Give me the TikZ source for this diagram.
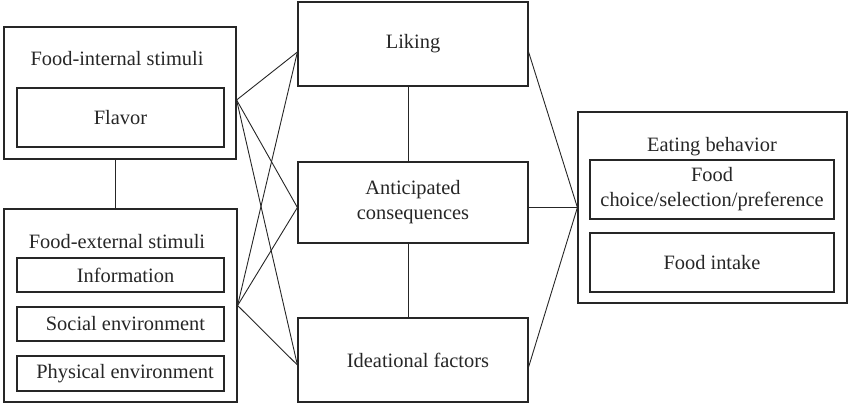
\documentclass[tikz,border=0pt]{standalone}
\usepackage{fontspec}
\setmainfont{Liberation Serif}
\usetikzlibrary{
  calc,
  positioning
}
\definecolor{Ink}{HTML}{262626}
\newcommand{\diagramnormalfont}{\fontsize{20.4}{25}\selectfont}
\tikzset{
  % Global typography and reusable box geometry.
  every node/.style={font=\diagramnormalfont, text=Ink},
  group block/.style={
    draw=Ink,
    line width=1.2pt,
    inner sep=0pt,
    minimum width=#1
  },
  group block/.default=232pt,
  item box/.style={
    draw=Ink,
    line width=1.2pt,
    inner sep=0pt,
    align=center,
    minimum width=#1
  },
  item box/.default=207pt,
  factor box/.style={
    draw=Ink,
    line width=1.2pt,
    inner sep=0pt,
    align=center,
    minimum width=230pt,
    minimum height=83pt
  },
  block title/.style={
    align=center,
    inner sep=0pt
  },
  link/.style={
    draw=Ink,
    line width=0.9pt
  }
}

\begin{document}
\begin{tikzpicture}[x=1pt, y=-1pt]

\useasboundingbox (0,0) rectangle (848,406);

% ---------------------------------------------------------------------------
% Food stimuli (left column)
% ---------------------------------------------------------------------------
\node[group block, minimum height=132pt] (internal) at (120,93) {};
\node[block title] (internalTitle) at (117,58.5) {Food-internal stimuli};
\node[item box, minimum height=59pt] (flavor) at (120.5,117.5) {Flavor};

\node[group block=233pt, minimum height=193pt] (external) at (120.5,305.5) {};
\node[block title] (externalTitle) at (117,242) {Food-external stimuli};
\node[item box, minimum height=34pt] (information) at (120.5,275) {\hspace*{10pt}Information};
\node[item box, minimum height=34pt] (social) at (120.5,324) {\hspace*{10pt}Social environment};
\node[item box, minimum height=35pt] (physical) at (120.5,373.5) {\hspace*{9pt}Physical environment};

\draw[link] (internal.south -| 115,0) -- (external.north -| 115,0);

% ---------------------------------------------------------------------------
% Mediating factors (middle column)
% ---------------------------------------------------------------------------
\node[factor box, minimum height=84pt] (liking) at (413,44) {Liking};
\node[factor box, minimum height=81pt] (anticipated) at (413,202.5)
  {Anticipated\\consequences};
\node[factor box, minimum height=84pt] (ideational) at (413,360)
  {\hspace*{10pt}Ideational factors};

\draw[link] (liking.south -| 408,0) -- (anticipated.north -| 408,0);
\draw[link] (anticipated.south -| 408,0) -- (ideational.north -| 408,0);

% ---------------------------------------------------------------------------
% Eating behavior (right column)
% ---------------------------------------------------------------------------
\node[group block=269pt, minimum height=191pt] (eating) at (712.5,207.5) {};
\node[block title] (eatingTitle) at (712,147) {Eating behavior};
\node[item box=244pt, minimum height=59pt] (choice) at (712,189.5)
  {Food\\choice/selection/preference};
\node[item box=244pt, minimum height=59pt] (intake) at (712,262.5) {Food intake};

% ---------------------------------------------------------------------------
% Cross-column links
% ---------------------------------------------------------------------------
\coordinate (internalHub) at ([yshift=-7pt]internal.east);
\coordinate (externalHub) at (external.east);
\coordinate (likingIn) at ([yshift=-8pt]liking.west);
\coordinate (anticipatedIn) at ([yshift=-5pt]anticipated.west);
\coordinate (ideationalIn) at ([yshift=-5pt]ideational.west);
\coordinate (likingOut) at ([yshift=-8pt]liking.east);
\coordinate (anticipatedOut) at ([yshift=-5pt]anticipated.east);
\coordinate (ideationalOut) at ([yshift=-7pt]ideational.east);

\foreach \hub in {internalHub,externalHub}{
  \foreach \target in {likingIn,anticipatedIn,ideationalIn}{
    \draw[link] (\hub) -- (\target);
  }
}

\foreach \source in {likingOut,anticipatedOut,ideationalOut}{
  \draw[link] (\source) -- (eating.west);
}

\end{tikzpicture}
\end{document}
